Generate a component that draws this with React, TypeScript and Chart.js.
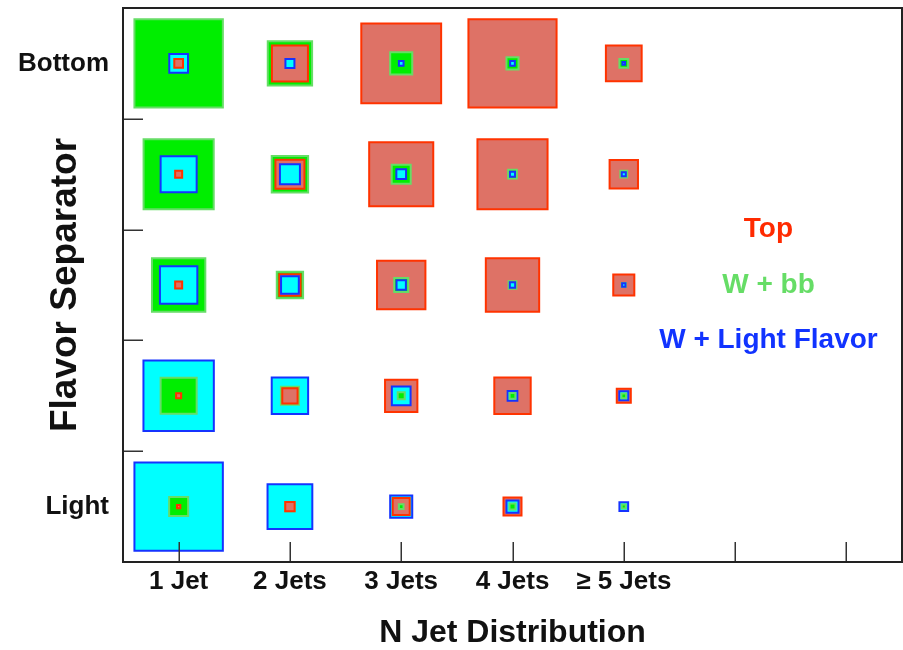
import React, { useEffect, useRef } from "react";
import { Chart, registerables } from "chart.js";

Chart.register(...registerables);

// ---- data ----
const xCategories = ["1 Jet", "2 Jets", "3 Jets", "4 Jets", "\u2265 5 Jets", "", ""];
const yCategories = ["Light", "", "", "", "Bottom"];
const seriesNames = ["Top", "W + bb", "W + Light Flavor"];

// relative box sizes (100 = largest box); rows from Light (0) to Bottom (4), columns 1 Jet .. >=5 Jets
const topValues = [
  [5.9, 12.6, 21.1, 22.2, 0],
  [7.8, 19.2, 38.1, 42.6, 17.8],
  [10, 25.9, 55.9, 61.4, 25.6],
  [10, 34.4, 73.3, 80, 33.7],
  [11.9, 42.2, 90.8, 100, 41.9],
];
const wbbValues = [
  [23.3, 12.6, 7.4, 8.9, 6.7],
  [42.2, 22.2, 10, 8.6, 7.4],
  [61.4, 31.4, 17.8, 10.8, 6.7],
  [80, 42.6, 23.3, 11.9, 9.7],
  [100.3, 51.4, 26.7, 15.6, 11.9],
];
const wlfValues = [
  [100.3, 51.9, 26.7, 15.6, 11.9],
  [80.3, 42.6, 23, 13, 12.2],
  [43.7, 21.9, 12.6, 8.1, 5.9],
  [42.2, 24.4, 13, 7.8, 6.7],
  [23, 12.2, 7.4, 7.4, 5.2],
];

// ---- styles ----
const fillColors = ["#DE7266", "#00EE00", "#00FFFF"];
const borderColors = ["#FF3300", "#66DD66", "#1533FF"];
const textColors = ["#FF2A00", "#66DD66", "#1133FF"];
const BORDER = 2;
const BOX_FRACTION = 0.81; // box side of value 100, in bin widths
const FONT = "'Liberation Sans', Arial, Helvetica, sans-serif";

function radiusFn(ctx: any) {
  const raw = ctx.raw;
  if (!raw || !raw.v) return 0;
  const xs = ctx.chart.scales.x;
  const side =
    Math.abs(xs.getPixelForValue((raw.v / 100) * BOX_FRACTION) - xs.getPixelForValue(0)) - BORDER;
  return Math.max(side, 0.6) / Math.SQRT2;
}

const framePlugin = {
  id: "frameTicks",
  afterDraw(chart: any) {
    const { ctx, chartArea: a, scales } = chart;
    ctx.save();
    // tick marks inside plot
    ctx.strokeStyle = "#333";
    ctx.lineWidth = 1.5;
    ctx.beginPath();
    xCategories.forEach((_, i) => {
      const px = Math.round(scales.x.getPixelForValue(i + 0.5)) + 0.25;
      ctx.moveTo(px, a.bottom);
      ctx.lineTo(px, a.bottom - 20);
    });
    for (let r = 1; r < yCategories.length; r++) {
      const py = Math.round(scales.y.getPixelForValue(r)) + 0.25;
      ctx.moveTo(a.left, py);
      ctx.lineTo(a.left + 20, py);
    }
    ctx.stroke();
    // frame
    ctx.strokeStyle = "#222";
    ctx.lineWidth = 2;
    ctx.strokeRect(a.left, a.top, a.right - a.left, a.bottom - a.top);
    // legend texts
    ctx.font = `bold 28px ${FONT}`;
    ctx.textAlign = "center";
    ctx.textBaseline = "middle";
    seriesNames.forEach((name, i) => {
      ctx.fillStyle = textColors[i];
      ctx.fillText(name, scales.x.getPixelForValue(5.8), scales.y.getPixelForValue(3 - i * 0.5));
    });
    ctx.restore();
  },
};

export default function App() {
  const ref = useRef<HTMLCanvasElement>(null);

  useEffect(() => {
    const canvas = ref.current;
    if (!canvas) return;
    const series = [topValues, wbbValues, wlfValues];
    const ranks: any[][] = [[], [], []];
    for (let r = 0; r < yCategories.length; r++) {
      for (let c = 0; c < 5; c++) {
        const items = series
          .map((arr, s) => ({ x: c + 0.5, y: r + 0.5, v: arr[r][c], s }))
          .filter((p) => p.v > 0);
        items.sort((a, b) => b.v - a.v || b.s - a.s);
        items.forEach((p, i) => ranks[i].push(p));
      }
    }
    const datasets = ranks.map((data, i) => ({
      label: `rank ${i}`,
      data,
      order: 10 - i,
      showLine: false,
      pointStyle: "rect",
      pointRadius: radiusFn,
      pointHoverRadius: radiusFn,
      pointBackgroundColor: (ctx: any) => fillColors[ctx.raw ? ctx.raw.s : 0],
      pointBorderColor: (ctx: any) => borderColors[ctx.raw ? ctx.raw.s : 0],
      pointHoverBackgroundColor: (ctx: any) => fillColors[ctx.raw ? ctx.raw.s : 0],
      pointHoverBorderColor: (ctx: any) => borderColors[ctx.raw ? ctx.raw.s : 0],
      pointBorderWidth: BORDER,
      pointHoverBorderWidth: BORDER,
    }));

    const chart = new Chart(canvas, {
      type: "scatter",
      data: { datasets: datasets as any },
      options: {
        animation: false,
        responsive: false,
        devicePixelRatio: 1,
        events: [],
        layout: { padding: { top: 8, right: 1, left: 0, bottom: 0 } },
        plugins: { legend: { display: false }, tooltip: { enabled: false } },
        scales: {
          x: {
            type: "linear",
            min: 0,
            max: 7,
            afterBuildTicks: (s: any) => {
              s.ticks = xCategories.map((_, i) => ({ value: i + 0.5 }));
            },
            afterFit: (s: any) => {
              s.height = 88;
              s.paddingLeft = 0;
              s.paddingRight = 0;
              s.paddingTop = 0;
              s.paddingBottom = 0;
            },
            grid: { display: false, drawTicks: false },
            border: { display: false },
            ticks: {
              autoSkip: false,
              maxRotation: 0,
              minRotation: 0,
              padding: 7,
              color: "#111",
              font: { family: FONT, size: 26, weight: "bold", lineHeight: 1 },
              callback: (_v: any, i: number) => xCategories[i],
            },
            title: {
              display: true,
              text: "N Jet Distribution",
              color: "#111",
              font: { family: FONT, size: 32, weight: "bold", lineHeight: 1 },
              padding: { top: 0, bottom: 1 },
            },
          },
          y: {
            type: "linear",
            min: 0,
            max: 5,
            afterBuildTicks: (s: any) => {
              s.ticks = yCategories.map((_, i) => ({ value: i + 0.5 }));
            },
            afterFit: (s: any) => {
              s.width = 123;
              s.paddingLeft = 0;
              s.paddingRight = 0;
              s.paddingTop = 0;
              s.paddingBottom = 0;
            },
            grid: { display: false, drawTicks: false },
            border: { display: false },
            ticks: {
              autoSkip: false,
              padding: 14,
              color: "#111",
              font: { family: FONT, size: 26, weight: "bold", lineHeight: 1 },
              callback: (_v: any, i: number) => yCategories[i],
            },
            title: {
              display: true,
              text: "Flavor Separator",
              color: "#111",
              font: { family: FONT, size: 37, weight: "bold", lineHeight: 1 },
              padding: { top: 47, bottom: 0 },
            },
          },
        },
      } as any,
      plugins: [framePlugin],
    });
    return () => chart.destroy();
  }, []);

  return (
    <div style={{ position: "absolute", left: 0, top: 0, width: 903, height: 650, background: "#fff" }}>
      <canvas ref={ref} width={903} height={650} style={{ display: "block" }} />
    </div>
  );
}
